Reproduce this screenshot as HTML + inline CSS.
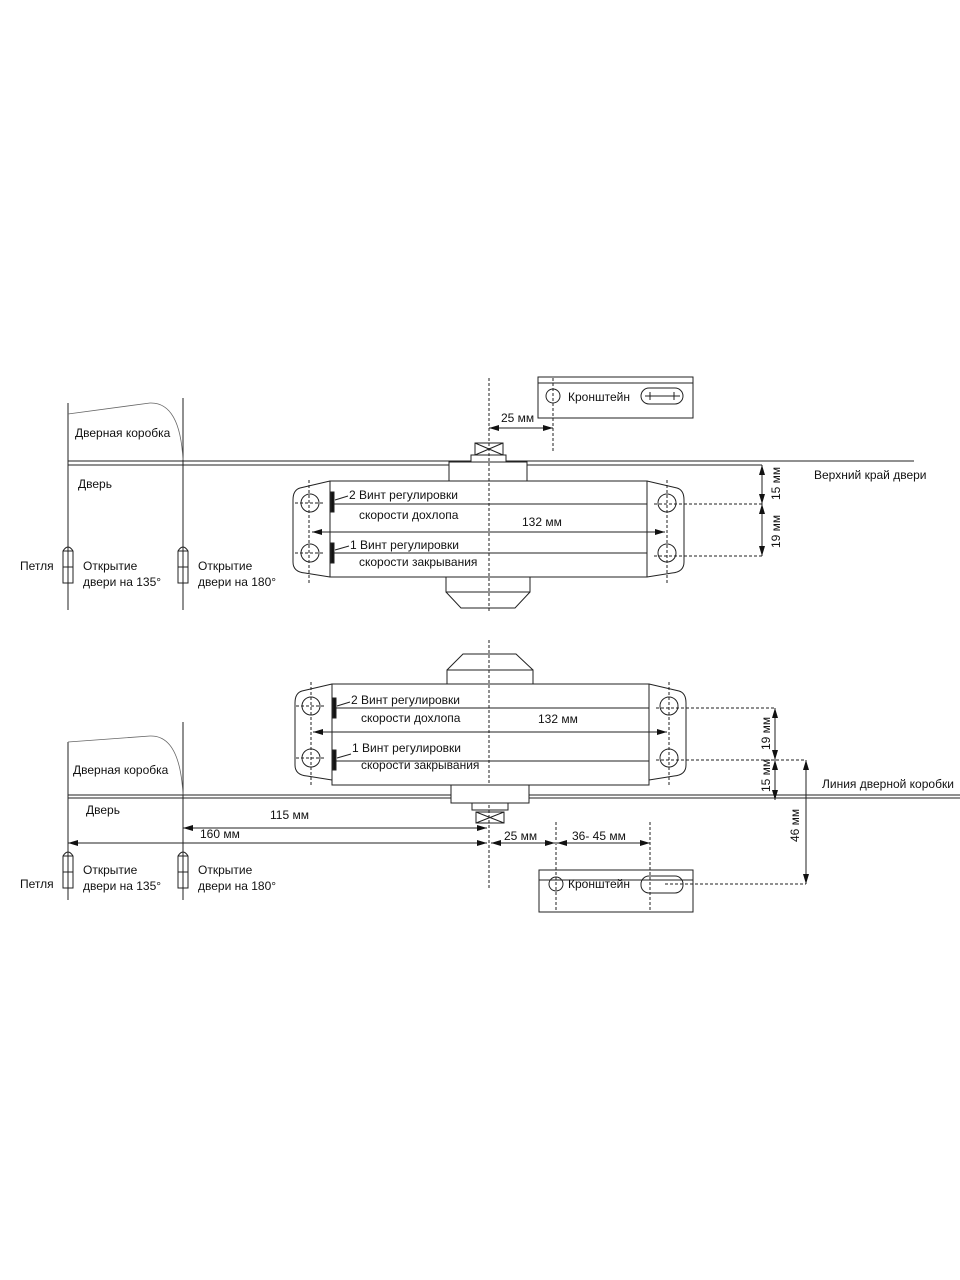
<!DOCTYPE html>
<html><head><meta charset="utf-8"><style>
html,body{margin:0;padding:0;background:#fff;}
svg{display:block;}
text{font-family:"Liberation Sans",sans-serif;font-size:12px;fill:#111;}
</style></head><body>
<svg width="960" height="1280" viewBox="0 0 960 1280" xmlns="http://www.w3.org/2000/svg">
<defs>
<marker id="a" viewBox="0 0 10 6" refX="10" refY="3" markerWidth="10" markerHeight="6" orient="auto-start-reverse" markerUnits="userSpaceOnUse"><path d="M0,0L10,3L0,6Z" fill="#111"/></marker>
</defs>
<g stroke="#222" fill="none" stroke-width="1">
<line x1="68" y1="403" x2="68" y2="610"/>
<line x1="183" y1="398" x2="183" y2="610"/>
<path d="M68,414 L150,403 Q180,402 183,460" stroke="#666" stroke-width="0.8"/>
<line x1="68" y1="461" x2="914" y2="461"/>
<line x1="68" y1="465" x2="450" y2="465"/>
<line x1="527" y1="465" x2="762" y2="465"/>
<path d="M63,583 V551 Q68,543 73,551 V583 Z"/><line x1="63" y1="551" x2="73" y2="551"/><line x1="63" y1="567" x2="73" y2="567"/>
<path d="M178,583 V551 Q183,543 188,551 V583 Z"/><line x1="178" y1="551" x2="188" y2="551"/><line x1="178" y1="567" x2="188" y2="567"/>
<rect x="538" y="377" width="155" height="41"/>
<line x1="538" y1="383" x2="693" y2="383"/>
<circle cx="553" cy="396" r="7"/>
<rect x="641" y="388" width="42" height="16" rx="8"/>
<line x1="650" y1="392" x2="650" y2="400"/><line x1="674" y1="392" x2="674" y2="400"/><line x1="645" y1="396" x2="680" y2="396"/>
<line x1="553" y1="378" x2="553" y2="452" stroke-dasharray="3,2"/>
<line x1="489" y1="428" x2="553" y2="428" marker-start="url(#a)" marker-end="url(#a)"/>
<rect x="475" y="443" width="28" height="12"/>
<path d="M475,443 L503,455 M503,443 L475,455"/>
<rect x="471" y="455" width="35" height="7" fill="#fff"/>
<rect x="449" y="462" width="78" height="19" fill="#fff"/>
<path d="M330,481 L300,488 Q293,490 293,500 V562 Q293,572 305,573 L330,577"/>
<path d="M647,481 L677,488 Q684,490 684,500 V562 Q684,572 672,573 L647,577"/>
<rect x="330" y="481" width="317" height="96"/>
<line x1="333" y1="504" x2="647" y2="504"/>
<line x1="333" y1="553" x2="647" y2="553"/>
<circle cx="310" cy="503" r="9"/><circle cx="310" cy="553" r="9"/>
<circle cx="667" cy="503" r="9"/><circle cx="667" cy="553" r="9"/>
<g stroke-dasharray="3,2">
<line x1="309" y1="480" x2="309" y2="584"/><line x1="667" y1="480" x2="667" y2="584"/>
<line x1="295" y1="503" x2="325" y2="503"/><line x1="295" y1="553" x2="325" y2="553"/>
<line x1="654" y1="504" x2="762" y2="504"/><line x1="654" y1="556" x2="762" y2="556"/>
<line x1="489" y1="378" x2="489" y2="612"/>
</g>
<line x1="312" y1="532" x2="665" y2="532" marker-start="url(#a)" marker-end="url(#a)"/>
<rect x="331" y="492" width="3" height="20" fill="#111"/>
<rect x="331" y="543" width="3" height="20" fill="#111"/>
<path d="M335,500 L348,496 M335,550 L349,546"/>
<rect x="446" y="577" width="84" height="15" fill="none"/>
<path d="M446,592 L461,608 L515,608 L530,592"/>
<line x1="762" y1="465" x2="762" y2="504" marker-start="url(#a)" marker-end="url(#a)"/>
<line x1="762" y1="504" x2="762" y2="556" marker-start="url(#a)" marker-end="url(#a)"/>

<line x1="68" y1="742" x2="68" y2="900"/>
<line x1="183" y1="722" x2="183" y2="900"/>
<path d="M68,742 L150,736 Q180,735 183,795" stroke="#666" stroke-width="0.8"/>
<line x1="68" y1="795" x2="960" y2="795"/>
<line x1="68" y1="798" x2="451" y2="798"/>
<line x1="529" y1="798" x2="960" y2="798"/>
<path d="M63,888 V856 Q68,848 73,856 V888 Z"/><line x1="63" y1="856" x2="73" y2="856"/><line x1="63" y1="872" x2="73" y2="872"/>
<path d="M178,888 V856 Q183,848 188,856 V888 Z"/><line x1="178" y1="856" x2="188" y2="856"/><line x1="178" y1="872" x2="188" y2="872"/>
<path d="M447,670 L463,654 L516,654 L533,670"/>
<rect x="447" y="670" width="86" height="14"/>
<path d="M332,684 L302,691 Q295,693 295,703 V765 Q295,775 307,776 L332,780"/>
<path d="M649,684 L679,691 Q686,693 686,703 V765 Q686,775 674,776 L649,780"/>
<rect x="332" y="684" width="317" height="101"/>
<line x1="335" y1="708" x2="649" y2="708"/>
<line x1="335" y1="761" x2="649" y2="761"/>
<circle cx="311" cy="706" r="9"/><circle cx="311" cy="758" r="9"/>
<circle cx="669" cy="706" r="9"/><circle cx="669" cy="758" r="9"/>
<g stroke-dasharray="3,2">
<line x1="311" y1="682" x2="311" y2="786"/><line x1="669" y1="682" x2="669" y2="786"/>
<line x1="296" y1="706" x2="326" y2="706"/><line x1="296" y1="758" x2="326" y2="758"/>
<line x1="656" y1="708" x2="775" y2="708"/><line x1="656" y1="760" x2="806" y2="760"/>
<line x1="489" y1="640" x2="489" y2="890"/>
<line x1="556" y1="822" x2="556" y2="912"/><line x1="650" y1="822" x2="650" y2="912"/>
<line x1="665" y1="884" x2="806" y2="884"/>
</g>
<line x1="313" y1="732" x2="667" y2="732" marker-start="url(#a)" marker-end="url(#a)"/>
<rect x="333" y="698" width="3" height="20" fill="#111"/>
<rect x="333" y="750" width="3" height="20" fill="#111"/>
<path d="M337,706 L350,702 M337,758 L351,754"/>
<rect x="451" y="785" width="78" height="18" fill="#fff"/>
<rect x="472" y="803" width="36" height="7"/>
<rect x="476" y="812" width="28" height="11"/>
<path d="M476,812 L504,823 M504,812 L476,823"/>
<line x1="183" y1="828" x2="487" y2="828" marker-start="url(#a)" marker-end="url(#a)"/>
<line x1="68" y1="843" x2="487" y2="843" marker-start="url(#a)" marker-end="url(#a)"/>
<line x1="491" y1="843" x2="555" y2="843" marker-start="url(#a)" marker-end="url(#a)"/>
<line x1="557" y1="843" x2="650" y2="843" marker-start="url(#a)" marker-end="url(#a)"/>
<line x1="775" y1="708" x2="775" y2="760" marker-start="url(#a)" marker-end="url(#a)"/>
<line x1="775" y1="760" x2="775" y2="800" marker-start="url(#a)" marker-end="url(#a)"/>
<line x1="806" y1="760" x2="806" y2="884" marker-start="url(#a)" marker-end="url(#a)"/>
<rect x="539" y="870" width="154" height="42"/>
<line x1="539" y1="880" x2="693" y2="880"/>
<circle cx="556" cy="884" r="7"/>
<rect x="641" y="876" width="42" height="17" rx="8"/>
</g>
<text x="568" y="401">Кронштейн</text>
<text x="501" y="422" font-size="11">25 мм</text>
<text x="75" y="437">Дверная коробка</text>
<text x="78" y="488">Дверь</text>
<text x="20" y="570">Петля</text>
<text x="83" y="570">Открытие</text><text x="83" y="586">двери на 135°</text>
<text x="198" y="570">Открытие</text><text x="198" y="586">двери на 180°</text>
<text x="349" y="499">2 Винт регулировки</text>
<text x="359" y="519">скорости дохлопа</text>
<text x="522" y="526">132 мм</text>
<text x="350" y="549">1 Винт регулировки</text>
<text x="359" y="566">скорости закрывания</text>
<text x="814" y="479" font-size="11">Верхний край двери</text>
<text transform="translate(780,500) rotate(-90)" font-size="11">15 мм</text>
<text transform="translate(780,548) rotate(-90)" font-size="11">19 мм</text>
<text x="73" y="774">Дверная коробка</text>
<text x="86" y="814">Дверь</text>
<text x="20" y="888">Петля</text>
<text x="83" y="874">Открытие</text><text x="83" y="890">двери на 135°</text>
<text x="198" y="874">Открытие</text><text x="198" y="890">двери на 180°</text>
<text x="270" y="819">115 мм</text>
<text x="200" y="838">160 мм</text>
<text x="504" y="840">25 мм</text>
<text x="572" y="840">36- 45 мм</text>
<text x="568" y="888">Кронштейн</text>
<text x="351" y="704">2 Винт регулировки</text>
<text x="361" y="722">скорости дохлопа</text>
<text x="538" y="723">132 мм</text>
<text x="352" y="752">1 Винт регулировки</text>
<text x="361" y="769">скорости закрывания</text>
<text x="822" y="788" font-size="11">Линия дверной коробки</text>
<text transform="translate(770,750) rotate(-90)" font-size="10.5">19 мм</text>
<text transform="translate(770,792) rotate(-90)" font-size="10.5">15 мм</text>
<text transform="translate(799,842) rotate(-90)" font-size="11">46 мм</text>
</svg>
</body></html>
